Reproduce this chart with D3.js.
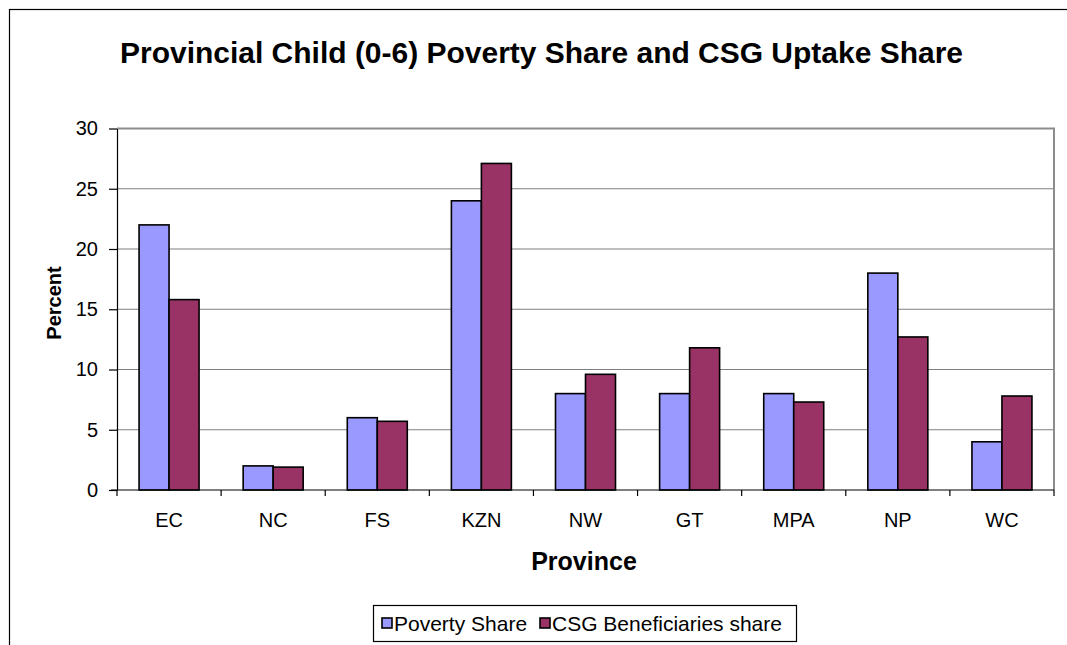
<!DOCTYPE html>
<html>
<head>
<meta charset="utf-8">
<script src="https://cdn.jsdelivr.net/npm/d3@7/dist/d3.min.js"></script>
<style>
  html, body { margin: 0; padding: 0; background: #fff; }
  svg { display: block; font-family: "Liberation Sans", Arial, sans-serif; }
</style>
</head>
<body>
<svg id="chart" width="1067" height="645"></svg>
<script>
// Provinces and the two shares (percent) per province
const provinces = ["EC", "NC", "FS", "KZN", "NW", "GT", "MPA", "NP", "WC"];
const povertyShare = [22, 2, 6, 24, 8, 8, 8, 18, 4];
const csgShare = [15.8, 1.9, 5.7, 27.1, 9.6, 11.8, 7.3, 12.7, 7.8];
const seriesNames = ["Poverty Share", "CSG Beneficiaries share"];
const seriesColors = ["#9999FF", "#993366"];
const yTicks = [0, 5, 10, 15, 20, 25, 30];

const svg = d3.select("#chart");

// outer chart frame (runs past the right and bottom edges)
svg.append("rect")
  .attr("x", 9.5).attr("y", 9.5)
  .attr("width", 1100).attr("height", 700)
  .attr("fill", "#fff").attr("stroke", "#000").attr("stroke-width", 1.2);

const plot = { left: 117, top: 128.5, right: 1054, bottom: 490 };

const x = d3.scaleBand().domain(provinces).range([plot.left, plot.right]).paddingInner(0).paddingOuter(0);
const y = d3.scaleLinear().domain([0, 30]).range([plot.bottom, plot.top]);

const groupW = 60;
const sub = d3.scaleBand().domain([0, 1]).range([0, groupW]);

// gridlines
svg.append("g")
  .selectAll("line")
  .data(yTicks.filter(t => t > 0 && t < 30))
  .join("line")
  .attr("x1", plot.left).attr("x2", plot.right)
  .attr("y1", d => y(d)).attr("y2", d => y(d))
  .attr("stroke", "#7f7f7f").attr("stroke-width", 1.2);

// plot area border: top and right in grey
svg.append("path")
  .attr("d", `M${plot.left},${y(30)}H${plot.right}V${plot.bottom}`)
  .attr("fill", "none").attr("stroke", "#8c8c8c").attr("stroke-width", 2);

// bars
const data = provinces.map((p, i) => ({ p, vals: [povertyShare[i], csgShare[i]] }));
const groups = svg.append("g").selectAll("g")
  .data(data).join("g")
  .attr("transform", d => `translate(${x(d.p) + x.bandwidth() / 2 - groupW / 2},0)`);
groups.selectAll("rect")
  .data(d => d.vals.map((v, k) => ({ v, k })))
  .join("rect")
  .attr("x", d => sub(d.k))
  .attr("width", sub.bandwidth())
  .attr("y", d => y(d.v))
  .attr("height", d => plot.bottom - y(d.v))
  .attr("fill", d => seriesColors[d.k])
  .attr("stroke", "#000").attr("stroke-width", 1.6);

// y axis
const yAxis = d3.axisLeft(y).tickValues(yTicks).tickSize(8).tickPadding(11).tickSizeOuter(0);
const gy = svg.append("g").attr("transform", `translate(${plot.left},0)`).call(yAxis);
gy.select(".domain").attr("stroke", "#000").attr("stroke-width", 1.2);
gy.selectAll(".tick line").attr("stroke", "#000").attr("stroke-width", 1.2);
gy.selectAll(".tick text").attr("font-size", 20).attr("fill", "#000")
  .attr("font-family", "Liberation Sans, Arial, sans-serif");

// x axis with ticks at category boundaries
const gx = svg.append("g").attr("transform", `translate(0,${plot.bottom})`);
gx.append("line").attr("x1", plot.left - 6).attr("x2", plot.right)
  .attr("stroke", "#000").attr("stroke-width", 1.2);
gx.selectAll("line.tk")
  .data(provinces.concat(["end"]))
  .join("line").attr("class", "tk")
  .attr("x1", (d, i) => plot.left + i * x.bandwidth())
  .attr("x2", (d, i) => plot.left + i * x.bandwidth())
  .attr("y1", 0).attr("y2", 6)
  .attr("stroke", "#000").attr("stroke-width", 1.2);
gx.selectAll("text")
  .data(provinces).join("text")
  .attr("x", d => x(d) + x.bandwidth() / 2)
  .attr("y", 37)
  .attr("text-anchor", "middle")
  .attr("font-size", 20)
  .text(d => d);

// title and axis titles
svg.append("text")
  .attr("x", 541.5).attr("y", 63)
  .attr("text-anchor", "middle")
  .attr("font-size", 29).attr("font-weight", "bold")
  .attr("textLength", 843).attr("lengthAdjust", "spacingAndGlyphs")
  .text("Provincial Child (0-6) Poverty Share and CSG Uptake Share");

svg.append("text")
  .attr("transform", "translate(61,303) rotate(-90)")
  .attr("text-anchor", "middle")
  .attr("font-size", 20).attr("font-weight", "bold")
  .text("Percent");

svg.append("text")
  .attr("x", 584).attr("y", 570)
  .attr("text-anchor", "middle")
  .attr("font-size", 25).attr("font-weight", "bold")
  .text("Province");

// legend
const lg = svg.append("g");
lg.append("rect")
  .attr("x", 373.5).attr("y", 605.5).attr("width", 423).attr("height", 36)
  .attr("fill", "#fff").attr("stroke", "#000").attr("stroke-width", 1.2);
const items = [{ x: 382, k: 0 }, { x: 540, k: 1 }];
items.forEach(it => {
  lg.append("rect")
    .attr("x", it.x).attr("y", 618).attr("width", 10).attr("height", 10)
    .attr("fill", seriesColors[it.k]).attr("stroke", "#000").attr("stroke-width", 1.6);
  lg.append("text")
    .attr("x", it.x + 12).attr("y", 631)
    .attr("font-size", 21)
    .text(seriesNames[it.k]);
});
</script>
</body>
</html>
